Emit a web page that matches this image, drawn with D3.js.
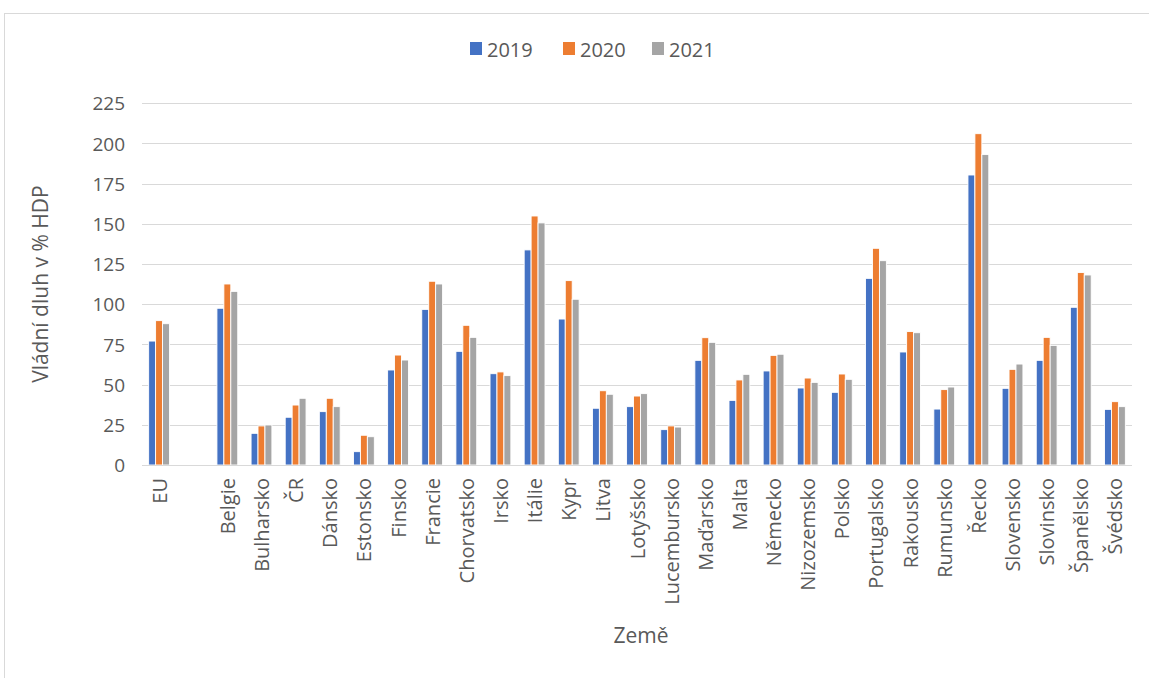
<!DOCTYPE html>
<html><head><meta charset="utf-8">
<script src="https://cdn.jsdelivr.net/npm/d3@7"></script>
<style>body{margin:0;background:#fff;} text{font-family:"Open Sans","Noto Sans",sans-serif;fill:#595959;}</style>
</head><body>
<svg id="c" width="1149" height="678"></svg>
<script>
const categories = ["EU"," ","Belgie","Bulharsko","ČR","Dánsko","Estonsko","Finsko","Francie","Chorvatsko","Irsko","Itálie","Kypr","Litva","Lotyšsko","Lucembursko","Maďarsko","Malta","Německo","Nizozemsko","Polsko","Portugalsko","Rakousko","Rumunsko","Řecko","Slovensko","Slovinsko","Španělsko","Švédsko"];
const seriesNames = ["2019","2020","2021"];
const v2019 = [77.1,null,97.5,19.7,29.7,33.2,8.3,59.1,96.8,70.7,56.8,133.8,90.8,35.3,36.3,22.0,65.1,40.2,58.5,47.9,45.2,116.1,70.3,34.8,180.4,47.7,65.1,98.1,34.6];
const v2020 = [89.8,null,112.6,24.3,37.3,41.5,18.5,68.4,114.3,86.9,57.9,154.9,114.7,46.2,42.9,24.3,79.2,52.9,68.2,54.1,56.6,134.8,83.0,46.9,206.1,59.5,79.4,119.7,39.4];
const v2021 = [87.9,null,108.0,24.9,41.5,36.3,17.6,65.3,112.6,79.4,55.6,150.6,103.1,44.0,44.4,23.6,76.3,56.4,68.9,51.4,53.3,127.1,82.3,48.5,193.1,62.8,74.4,118.2,36.3];
const yTicks = [0,25,50,75,100,125,150,175,200,225];
const colors = ["#4472C4","#ED7D31","#A5A5A5"];
const seriesValues = [v2019,v2020,v2021];

const svg = d3.select("#c");
svg.append("rect").attr("x",4.5).attr("y",13.5).attr("width",1160).attr("height",700)
  .attr("fill","#fff").attr("stroke","#d9d9d9").attr("stroke-width",1);

const L=142, R=1132, T=103.3, B=465;
const x = d3.scaleBand().domain(categories.map((c,i)=>i)).range([L,R]).paddingInner(0.39).paddingOuter(0.195);
const xi = d3.scaleBand().domain(seriesNames).range([0,x.bandwidth()]).padding(0);
const y = d3.scaleLinear().domain([0,225]).range([B,T]);

// gridlines
svg.append("g").selectAll("line").data(yTicks).join("line")
  .attr("x1",L).attr("x2",R).attr("y1",d=>Math.round(y(d))+0.5).attr("y2",d=>Math.round(y(d))+0.5)
  .attr("stroke","#d9d9d9").attr("stroke-width",1);

// y axis labels
const yAxis = d3.axisLeft(y).tickValues(yTicks).tickSize(0).tickPadding(0);
const ga = svg.append("g").attr("transform",`translate(${L-17},0)`).call(yAxis);
ga.select(".domain").remove();
ga.selectAll("text").style("font-size","19px").attr("fill","#595959").attr("dy","0.35em");

// bars
seriesNames.forEach((s,si)=>{
  svg.append("g").selectAll("rect").data(categories.map((c,i)=>({i,v:seriesValues[si][i]})).filter(d=>d.v!=null))
    .join("rect")
    .attr("x",d=>x(d.i)+xi(s)).attr("width",xi.bandwidth())
    .attr("y",d=>y(d.v)).attr("height",d=>B-y(d.v))
    .attr("fill",colors[si]).attr("stroke","#fff").attr("stroke-width",0.9);
});

// x axis line
svg.append("line").attr("x1",L).attr("x2",R).attr("y1",B+0.5).attr("y2",B+0.5).attr("stroke","#d9d9d9");

// x labels
const xAxis = d3.axisBottom(x).tickFormat(i=>categories[i]).tickSize(0).tickPadding(0);
const gx = svg.append("g").attr("transform",`translate(0,${B})`).call(xAxis);
gx.select(".domain").remove();
gx.selectAll("text").style("font-size","20px").attr("fill","#595959")
  .attr("text-anchor","end").attr("dy",null)
  .attr("transform","translate(0,13) rotate(-90)").attr("dx",0).attr("y",0).attr("x",0)
  .attr("dominant-baseline","central");

// axis titles
svg.append("text").attr("transform",`translate(40,${(T+B)/2}) rotate(-90)`).attr("text-anchor","middle")
  .attr("dominant-baseline","central").style("font-size","21px").text("Vládní dluh v % HDP");
svg.append("text").attr("x",641).attr("y",635).attr("text-anchor","middle").attr("dominant-baseline","central")
  .style("font-size","21px").text("Země");

// legend
const leg = svg.append("g");
const legX = [470,563,652];
seriesNames.forEach((s,i)=>{
  leg.append("rect").attr("x",legX[i]).attr("y",42).attr("width",12).attr("height",13).attr("fill",colors[i]);
  leg.append("text").attr("x",legX[i]+17).attr("y",49).attr("dominant-baseline","central").style("font-size","20px").text(s);
});
</script>
</body></html>
